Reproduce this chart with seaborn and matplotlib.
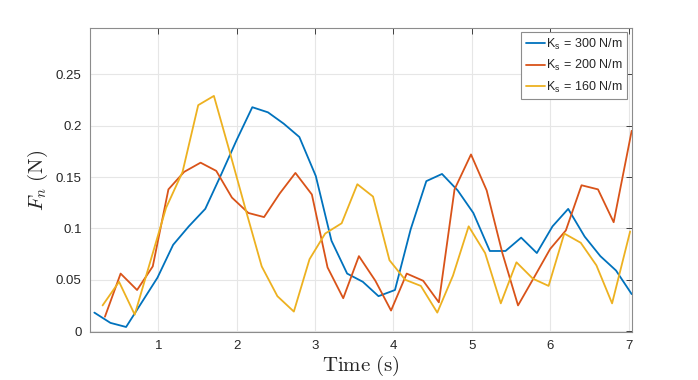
import numpy as np
import pandas as pd
import matplotlib
matplotlib.use('Agg')
import matplotlib.pyplot as plt
import seaborn as sns

# time samples and normal force for each spring stiffness
t_300 = [0.185, 0.39, 0.59, 0.79, 0.99, 1.19, 1.39, 1.60, 1.80, 2.00, 2.20, 2.40,
         2.60, 2.80, 3.01, 3.21, 3.41, 3.61, 3.81, 4.02, 4.22, 4.42, 4.62, 4.82,
         5.02, 5.23, 5.43, 5.63, 5.83, 6.03, 6.23, 6.44, 6.64, 6.84, 7.04]
f_300 = [0.018, 0.008, 0.004, 0.028, 0.052, 0.084, 0.102, 0.119, 0.152, 0.186, 0.218, 0.213,
         0.202, 0.189, 0.151, 0.088, 0.056, 0.048, 0.034, 0.040, 0.099, 0.146, 0.153, 0.137,
         0.115, 0.078, 0.078, 0.091, 0.076, 0.102, 0.119, 0.092, 0.073, 0.059, 0.036]

t_200 = [0.32, 0.52, 0.73, 0.93, 1.13, 1.33, 1.54, 1.74, 1.94, 2.15, 2.35, 2.55,
         2.75, 2.96, 3.16, 3.36, 3.56, 3.77, 3.97, 4.17, 4.38, 4.58, 4.78, 4.99,
         5.19, 5.39, 5.59, 5.80, 6.00, 6.20, 6.40, 6.61, 6.81, 7.04]
f_200 = [0.014, 0.056, 0.040, 0.063, 0.138, 0.155, 0.164, 0.156, 0.130, 0.115, 0.111, 0.134,
         0.154, 0.133, 0.062, 0.032, 0.073, 0.049, 0.020, 0.056, 0.049, 0.028, 0.138, 0.172,
         0.137, 0.076, 0.025, 0.053, 0.080, 0.098, 0.142, 0.138, 0.106, 0.195]

t_160 = [0.29, 0.50, 0.70, 0.90, 1.10, 1.31, 1.51, 1.71, 1.91, 2.12, 2.32, 2.52,
         2.73, 2.93, 3.13, 3.34, 3.54, 3.74, 3.95, 4.15, 4.35, 4.56, 4.76, 4.96,
         5.17, 5.37, 5.57, 5.78, 5.98, 6.18, 6.39, 6.59, 6.79, 7.02]
f_160 = [0.025, 0.048, 0.016, 0.068, 0.120, 0.155, 0.220, 0.229, 0.175, 0.117, 0.063, 0.034,
         0.019, 0.070, 0.095, 0.105, 0.143, 0.131, 0.069, 0.050, 0.044, 0.018, 0.054, 0.102,
         0.076, 0.027, 0.067, 0.051, 0.044, 0.095, 0.086, 0.064, 0.027, 0.097]

labels = ['K$_{\\mathregular{s}}$ = 300 N/m', 'K$_{\\mathregular{s}}$ = 200 N/m', 'K$_{\\mathregular{s}}$ = 160 N/m']
colors = ['#0072BD', '#D95319', '#EDB120']

df = pd.concat([
    pd.DataFrame({'t': t_300, 'F': f_300, 'case': labels[0]}),
    pd.DataFrame({'t': t_200, 'F': f_200, 'case': labels[1]}),
    pd.DataFrame({'t': t_160, 'F': f_160, 'case': labels[2]}),
], ignore_index=True)

sns.set_style('white')
plt.rcParams['font.family'] = ['Liberation Sans', 'DejaVu Sans']
plt.rcParams['mathtext.fontset'] = 'cm'

fig = plt.figure(figsize=(6.98, 3.8), dpi=100)
ax = fig.add_axes([0.129, 0.126, 0.776, 0.800])

sns.lineplot(data=df, x='t', y='F', hue='case', palette=colors, sort=False,
             estimator=None, linewidth=1.3, ax=ax)

ax.set_xlim(0.13, 7.04)
ax.set_ylim(-0.001, 0.295)
ax.set_xticks([1, 2, 3, 4, 5, 6, 7])
ax.set_yticks([0, 0.05, 0.1, 0.15, 0.2, 0.25])
ax.set_yticklabels(['0', '0.05', '0.1', '0.15', '0.2', '0.25'])
ax.grid(True, color='#e6e6e6', linewidth=0.8)
ax.tick_params(direction='in', length=4, width=0.6, top=True, right=True,
               labelsize=9.5, colors='#262626', pad=6)
for s in ax.spines.values():
    s.set_color('#8c8c8c')
    s.set_linewidth(0.8)

ax.set_xlabel(r'$\mathrm{Time\ (s)}$', fontsize=15, labelpad=1)
ax.set_ylabel(r'$F_n\ \mathrm{(N)}$', fontsize=15, labelpad=4)

leg = ax.legend(loc='upper right', bbox_to_anchor=(0.991, 0.986), fontsize=9,
                handlelength=1.5, handletextpad=0.1, borderpad=0.35,
                labelspacing=0.5, borderaxespad=0, fancybox=False, framealpha=1)
leg.get_frame().set_edgecolor('#8c8c8c')
leg.get_frame().set_linewidth(0.8)

fig.savefig('out.png', dpi=100)
